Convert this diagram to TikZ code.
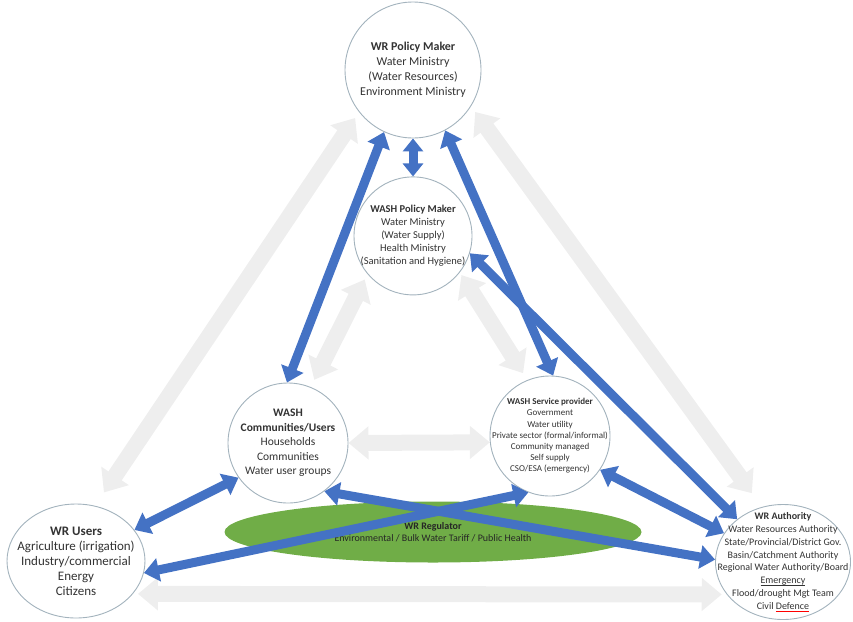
\documentclass[tikz,border=0pt]{standalone}
\usepackage{fontspec}
\setmainfont{Carlito}
\usepackage{xcolor}
\usepackage{tikz}
\usetikzlibrary{positioning,arrows.meta,shapes.geometric,backgrounds}
\definecolor{washblue}{HTML}{4472C4}
\definecolor{regreen}{HTML}{70AD47}
\definecolor{flowgrey}{HTML}{EEEEEE}
\definecolor{ringgrey}{HTML}{A3B3BD}
\newcommand{\fsize}[2]{\fontsize{#1}{#2}\selectfont}
\newsavebox{\ulbox}
\newcommand{\lineunder}[2]{\sbox{\ulbox}{#2}\rlap{\textcolor{#1}{\rule[-2pt]{\wd\ulbox}{0.7pt}}}\usebox{\ulbox}}

\begin{document}
\begin{tikzpicture}[x=1pt,y=-1pt,
  bubble/.style={circle,draw=ringgrey,line width=.9pt,fill=white,align=center,
                 inner sep=-30pt,text=black!80},
  oval/.style={ellipse,draw=ringgrey,line width=.9pt,fill=white,align=center,
               inner sep=-30pt,text=black!80},
  link/.style={{Triangle[width=23pt,length=15pt]}-{Triangle[width=23pt,length=15pt]},
               line width=9pt,washblue},
  flow/.style={{Triangle[width=32pt,length=20pt]}-{Triangle[width=32pt,length=20pt]},
               line width=16pt,flowgrey}]
\useasboundingbox (0,0) rectangle (853,621);
\node[bubble,minimum size=136pt,font=\fsize{12}{15}] (wrp) at (413,70)
  {\textbf{WR Policy Maker}\\Water Ministry\\(Water Resources)\\Environment Ministry};
\node[bubble,minimum size=118pt,font=\fsize{10.5}{13},below=38pt of wrp] (washp)
  {\textbf{WASH Policy Maker}\\Water Ministry\\(Water Supply)\\Health Ministry\\(Sanitation and Hygiene)};
\node[bubble,minimum size=120pt,font=\fsize{11.5}{14.5}] (washc) at (288,443)
  {\textbf{WASH}\\\textbf{Communities/Users}\\Households\\Communities\\Water user groups};
\node[bubble,minimum size=120pt,font=\fsize{9}{11.2}] (washs) at (550,436)
  {\textbf{WASH Service provider}\\Government\\Water utility\\Private sector (formal/informal)\\
   Community managed\\Self supply\\CSO/ESA (emergency)};
\node[oval,minimum width=138pt,minimum height=114pt,font=\fsize{13}{15}] (wru) at (76,561)
  {\textbf{WR Users}\\Agriculture (irrigation)\\Industry/commercial\\Energy\\Citizens};
\node[oval,minimum width=135pt,minimum height=115pt,font=\fsize{10}{12.8}] (wra) at (783,562)
  {\textbf{WR Authority}\\Water Resources Authority\\State/Provincial/District Gov.\\
   Basin/Catchment Authority\\Regional Water Authority/Board\\\lineunder{black!80}{Emergency}\\
   Flood/drought Mgt Team\\Civil \lineunder{red}{Defence}};
\node[ellipse,fill=regreen,minimum width=417pt,minimum height=61pt,inner sep=0pt,
      align=center,text=black!85,font=\fsize{10}{12.5}] (reg) at (433,532)
  {\textbf{WR Regulator}\\Environmental / Bulk Water Tariff / Public Health};
\begin{scope}[on background layer]
\draw[flow,shorten <=16pt,shorten >=7pt] (wru.71) -- (wrp.218);
\draw[flow,shorten <=7pt,shorten >=17pt] (wrp.328) -- (wra.111);
\draw[flow,shorten <=5pt,shorten >=5pt] (wru.-30) -- (wra.210);
\draw[flow,shorten <=8pt,shorten >=6pt] (washc.68) -- (washp.220);
\draw[flow,shorten <=3pt,shorten >=8pt] (washp.322) -- (washs.112);
\draw[flow] (washc.0) -- (washs.186);
\end{scope}
\draw[link,{Triangle[width=20pt,length=13pt]}-{Triangle[width=20pt,length=13pt]}] (wrp.south) -- (washp.north);
\draw[link] (wrp.245) -- (washc.91);
\draw[link] (wrp.298) -- (washs.87);
\draw[link] (washp.343) -- (wra.137);
\draw[link] (washs.326) -- (wra.154);
\draw[link] (washc.307) -- (wra.178);
\draw[link] (wru.28) -- (washc.215);
\draw[link] (wru.350) -- (washs.249);
\end{tikzpicture}
\end{document}
